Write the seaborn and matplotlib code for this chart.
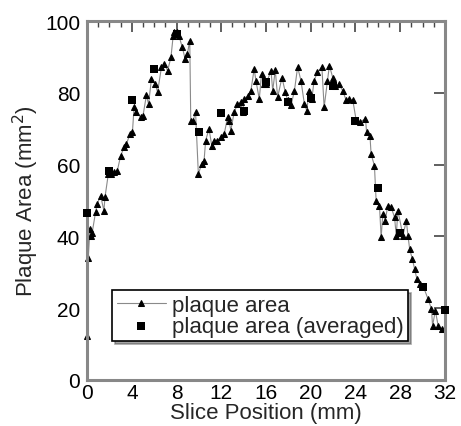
import matplotlib
matplotlib.use("Agg")
import matplotlib.pyplot as plt
import seaborn as sns
import pandas as pd
from matplotlib.ticker import MultipleLocator

# plaque area per slice
slice_pos = [0.0, 0.1, 0.25, 0.35, 0.45, 0.75, 0.9, 1.2, 1.5, 1.6,
             1.9, 2.1, 2.4, 2.7, 3.0, 3.3, 3.5, 3.85, 4.05, 4.2,
             4.4, 4.8, 5.0, 5.3, 5.5, 5.75, 6.1, 6.3, 6.65, 6.9,
             7.2, 7.5, 7.7, 7.8, 8.07, 8.2, 8.52, 8.76, 8.97, 9.18,
             9.27, 9.48, 9.7, 9.95, 10.25, 10.46, 10.6, 10.9, 11.15, 11.35,
             11.65, 11.96, 12.26, 12.56, 12.7, 12.85, 13.15, 13.45, 13.75, 13.9,
             14.05, 14.35, 14.65, 14.94, 15.1, 15.4, 15.6, 15.8, 16.0, 16.45,
             16.6, 16.83, 17.04, 17.43, 17.73, 17.94, 18.24, 18.54, 18.83, 19.13,
             19.43, 19.64, 19.88, 20.1, 20.3, 20.6, 21.0, 21.2, 21.5, 21.67,
             21.97, 22.2, 22.5, 22.87, 23.17, 23.46, 23.77, 24.07, 24.4, 24.9,
             25.0, 25.3, 25.4, 25.7, 25.85, 26.15, 26.3, 26.45, 26.66, 26.9,
             27.2, 27.5, 27.65, 27.8, 28.25, 28.55, 28.7, 28.85, 29.09, 29.3,
             29.5, 29.75, 30.05, 30.5, 30.8, 30.9, 31.15, 31.4, 31.7]
plaque_area = [12.3, 34.0, 42.0, 40.2, 41.0, 46.7, 49.0, 51.4, 47.2, 51.0,
               57.5, 57.4, 57.9, 58.3, 62.5, 64.8, 65.7, 68.6, 69.0, 76.0,
               74.6, 73.2, 73.7, 79.3, 76.9, 83.9, 82.5, 80.2, 87.2, 88.1,
               86.2, 90.0, 96.0, 97.0, 97.0, 96.0, 92.7, 89.5, 90.9, 94.6,
               72.3, 72.3, 74.6, 57.4, 60.2, 61.1, 66.7, 70.0, 65.3, 66.7,
               66.7, 67.6, 68.5, 73.2, 72.3, 69.5, 74.6, 76.9, 77.4, 74.6,
               78.3, 79.2, 80.6, 86.7, 83.4, 78.3, 85.3, 82.5, 82.5, 86.2,
               80.6, 86.4, 78.8, 84.3, 80.2, 77.9, 76.5, 80.6, 87.2, 83.4,
               77.0, 75.1, 80.6, 78.3, 83.4, 85.8, 87.2, 76.0, 83.4, 87.6,
               84.3, 82.0, 82.5, 80.6, 77.9, 78.3, 77.9, 72.3, 71.9, 72.8,
               69.0, 68.1, 63.0, 59.7, 50.0, 48.6, 39.7, 46.3, 44.4, 48.6,
               48.1, 45.3, 40.2, 47.2, 40.2, 44.4, 40.2, 36.5, 33.7, 30.9,
               28.1, 26.7, 26.2, 22.5, 19.8, 15.1, 19.3, 15.1, 14.2]

# averaged plaque area every 2 mm
avg_pos = [0, 2, 4, 6, 8, 10, 12, 14, 16, 18, 20, 22, 24, 26, 28, 30, 32]
avg_area = [46.5, 58.3, 78.0, 86.7, 96.5, 69.0, 74.5, 75.0, 83.0, 77.4,
            78.5, 82.0, 72.3, 53.4, 41.0, 25.8, 19.5]

raw = pd.DataFrame({"pos": slice_pos, "area": plaque_area})
avg = pd.DataFrame({"pos": avg_pos, "area": avg_area})

sns.set_style("white")
plt.rcParams["font.family"] = ["Liberation Sans", "DejaVu Sans"]

fig = plt.figure(figsize=(4.61, 4.27), dpi=100)
ax = fig.add_axes([0.189, 0.108, 0.776, 0.84])

sns.lineplot(data=raw, x="pos", y="area", ax=ax, sort=False, estimator=None,
             color="#8a8a8a", linewidth=0.8, marker="^", markersize=5,
             markerfacecolor="black", markeredgecolor="black",
             label="plaque area", clip_on=False)
sns.scatterplot(data=avg, x="pos", y="area", ax=ax, marker="s", s=40,
                color="black", edgecolor="black", linewidth=0,
                label="plaque area (averaged)", zorder=3, clip_on=False)

ax.set_xlim(0, 32)
ax.set_ylim(0, 100)
ax.xaxis.set_major_locator(MultipleLocator(4))
ax.xaxis.set_minor_locator(MultipleLocator(1))
ax.yaxis.set_major_locator(MultipleLocator(20))
ax.tick_params(which="both", direction="in", top=True, right=True,
               colors="#444444", labelcolor="black", labelsize=15)
ax.tick_params(axis="x", pad=2)
ax.tick_params(axis="y", pad=5)
ax.tick_params(which="major", length=8, width=1.2)
ax.tick_params(which="minor", length=4, width=1)
for sp in ax.spines.values():
    sp.set_color("#888888")
    sp.set_linewidth(2.2)

ax.set_xlabel("Slice Position (mm)", fontsize=16, labelpad=0)
ax.set_ylabel("Plaque Area (mm$^2$)", fontsize=16, labelpad=3)

# tight two-line legend with a drop shadow, as in the original
leg = ax.legend(loc="lower left", bbox_to_anchor=(0.07, 0.108), fontsize=16,
                frameon=True, fancybox=False, shadow=True, borderpad=0.2,
                handlelength=2.2, handletextpad=0.3, labelspacing=0.0,
                borderaxespad=0)
leg.get_frame().set_edgecolor("black")
leg.get_frame().set_linewidth(1.2)

fig.savefig("out.png", dpi=100)
